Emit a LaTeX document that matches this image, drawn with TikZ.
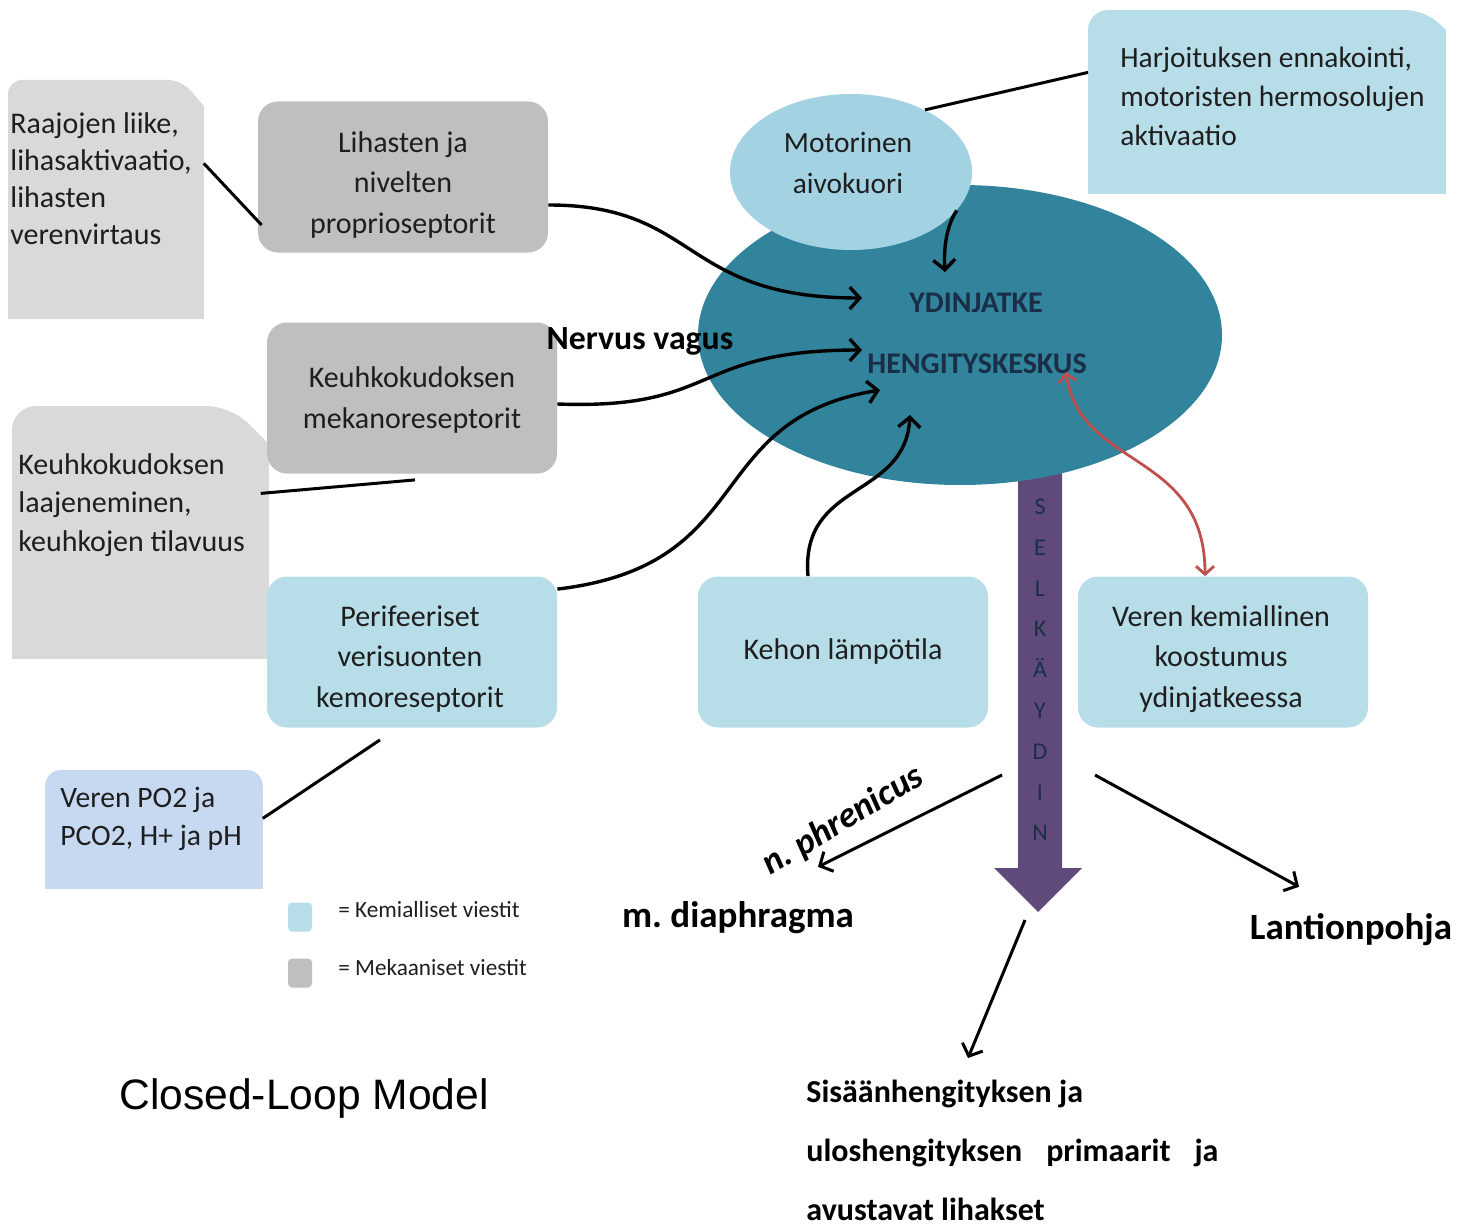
\documentclass[tikz,border=0pt]{standalone}
\usepackage{fontspec}
\setmainfont{Carlito}
\newfontfamily\arialf{Liberation Sans}
\usetikzlibrary{arrows.meta,shapes.geometric}
\frenchspacing
\definecolor{gbox}{HTML}{BFBFBF}
\definecolor{gnote}{HTML}{D9D9D9}
\definecolor{lblue}{HTML}{B7DEE8}
\definecolor{cblue}{HTML}{A3D3E2}
\definecolor{ellcol}{HTML}{31849B}
\definecolor{nblue}{HTML}{C6D9F1}
\definecolor{purp}{HTML}{604A7B}
\definecolor{redar}{HTML}{C0504D}
\definecolor{navy}{HTML}{1B2E48}
\definecolor{txt}{HTML}{1E1E1E}
\begin{document}
\begin{tikzpicture}[x=0.5pt,y=-0.5pt,
  box/.style={rounded corners=10pt, minimum width=145pt, minimum height=75.5pt, inner sep=0pt},
  boxtxt/.style={align=center, inner sep=0pt, text=txt, font=\fontsize{15}{20.2}\selectfont},
  shp/.style 2 args={minimum width=#1, minimum height=#2, inner sep=0pt, anchor=north west},
  notetxt/.style={anchor=north west, inner sep=0pt, align=left, text=txt, font=\fontsize{15}{18.6}\selectfont},
  arr/.style={line width=1.7pt, -{Straight Barb[length=5pt,width=11pt]}},
  ln/.style={line width=1.5pt},
  lbl/.style={font=\bfseries\fontsize{18.5}{22}\selectfont, text=black},
]
\useasboundingbox (0,0) rectangle (1470,1225);

% ---- note shapes ----
\node[shp={97.5pt}{119pt}] (note1) at (8,80) {};
\fill[gnote] (note1.south west) [rounded corners=7pt] -- (note1.north west) -- ([xshift=-11pt]note1.north east) [sharp corners] -- ([yshift=-13pt]note1.north east) -- (note1.south east) -- cycle;
\node[notetxt] (t1) at (10,112) {Raajojen liike,\\lihasaktivaatio,\\lihasten\\verenvirtaus};

\node[shp={128pt}{126pt}] (note2) at (12,406) {};
\fill[gnote] (note2.south west) [rounded corners=12pt] -- (note2.north west) -- ([xshift=-19pt]note2.north east) [sharp corners] -- ([yshift=-19pt]note2.north east) -- (note2.south east) -- cycle;
\node[notetxt, font=\fontsize{15}{19.2}\selectfont] (t2) at (18,453) {Keuhkokudoksen\\laajeneminen,\\keuhkojen tilavuus};

\node[shp={108.5pt}{59pt}] (note3) at (45,770) {};
\fill[nblue] (note3.south west) [rounded corners=8pt] -- (note3.north west) -- (note3.north east) [sharp corners] -- (note3.south east) -- cycle;
\node[notetxt, font=\fontsize{14.8}{19}\selectfont] (t3) at (60,787) {Veren PO2 ja\\PCO2, H+ ja pH};

\node[shp={178.5pt}{91.5pt}] (harjb) at (1088,10) {};
\fill[lblue] (harjb.south west) [rounded corners=10pt] -- (harjb.north west) -- ([xshift=-10pt]harjb.north east) [sharp corners] -- ([yshift=-10pt]harjb.north east) -- (harjb.south east) -- cycle;
\node[notetxt, font=\fontsize{14.7}{19.3}\selectfont] (t4) at (1120,47) {Harjoituksen ennakointi,\\motoristen hermosolujen\\aktivaatio};

% ---- boxes ----
\node[box, fill=gbox] (proprio) at (403,177) {};
\node[boxtxt] (proprioT) at (403,185) {Lihasten ja\\nivelten\\proprioseptorit};
\node[box, fill=gbox] (mekano) at (412,398) {};
\node[boxtxt] (mekanoT) at (412,400) {Keuhkokudoksen\\mekanoreseptorit};
\node[box, fill=lblue] (perif) at (412,652) {};
\node[boxtxt] (perifT) at (410,659) {Perifeeriset\\verisuonten\\kemoreseptorit};
\node[box, fill=lblue] (kehon) at (843,652) {};
\node[boxtxt] (kehonT) at (843,651) {Kehon lämpötila};
\node[box, fill=lblue] (veren) at (1223,652) {};
\node[boxtxt] (verenT) at (1221,659) {Veren kemiallinen\\koostumus\\ydinjatkeessa};

% ---- spinal cord arrow ----
\fill[purp] (1018,440) -- (1062,440) -- (1062,868) -- (1082,868) -- (1038,912) -- (994,868) -- (1018,868) -- cycle;
\node[align=center, inner sep=0pt, text=navy, font=\fontsize{12}{20.4}\selectfont] (selk) at (1040,670) {S\\E\\L\\K\\Ä\\Y\\D\\I\\N};

% ---- medulla and motor cortex ----
\node[ellipse, fill=ellcol, minimum width=262pt, minimum height=150pt, inner sep=0pt] (medulla) at (960,335) {};
\node[ellipse, fill=cblue, minimum width=121pt, minimum height=78pt, inner sep=0pt] (motor) at (851,172) {};
\node[boxtxt, font=\fontsize{14.7}{20.5}\selectfont] (motorT) at (848,163) {Motorinen\\aivokuori};
\node[font=\bfseries\fontsize{15}{17}\selectfont, text=navy] (ydin) at (976,303) {YDINJATKE};
\node[font=\bfseries\fontsize{15}{17}\selectfont, text=navy] (heng) at (977,364) {HENGITYSKESKUS};

\node[font=\bfseries\fontsize{16.9}{19}\selectfont] (vagus) at (640,341) {Nervus vagus};

% ---- connectors ----
\coordinate (e1) at (862,298);
\coordinate (e2) at (862,350);
\coordinate (e3) at (880,390);
\coordinate (e4) at (910,415);
\coordinate (e5) at (945,272);
\draw[arr] ([yshift=-14pt]proprio.east) .. controls (700,205) and (680,298) .. (e1);
\draw[arr] ([yshift=-3pt]mekano.east) .. controls (720,410) and (690,350) .. (e2);
\draw[arr] ([yshift=-6.5pt]perif.north east) .. controls (760,565) and (700,420) .. (e3);
\draw[arr] ([xshift=-17.5pt]kehon.north) .. controls (800,480) and (905,500) .. (e4);
\draw[arr] (motor.-20) .. controls (950,220) and (943,240) .. (e5);
\draw[line width=1.4pt, redar, {Straight Barb[length=4pt,width=9pt]}-{Straight Barb[length=4pt,width=9pt]}]
  (1066,372) .. controls (1080,470) and (1205,450) .. ([xshift=-9pt]veren.north);

\draw[ln] ([yshift=18pt]note1.east) -- ([xshift=2pt,yshift=-24pt]proprio.west);
\draw[ln] ([xshift=-4pt,yshift=19.5pt]note2.east) -- ([xshift=1.5pt,yshift=-3pt]mekano.south);
\draw[ln] ([yshift=5.5pt]note3.east) -- ([xshift=-16pt,yshift=-6pt]perif.south);
\draw[ln] (motor.40) -- ([yshift=14.75pt]harjb.west);

% ---- legend ----
\node[fill=lblue, rounded corners=2pt, minimum width=12pt, minimum height=14.5pt, inner sep=0pt] (lg1) at (300,917) {};
\node[fill=gbox, rounded corners=2pt, minimum width=12pt, minimum height=14.5pt, inner sep=0pt] (lg2) at (300,973) {};
\node[anchor=west, inner sep=0pt, text=txt, font=\fontsize{11.6}{13}\selectfont] (lt1) at (338,910) {= Kemialliset viestit};
\node[anchor=west, inner sep=0pt, text=txt, font=\fontsize{11.6}{13}\selectfont] (lt2) at (338,968) {= Mekaaniset viestit};

\node[font=\arialf\fontsize{21.3}{25}\selectfont] (title) at (304,1098) {Closed-Loop Model};

% ---- lower targets ----
\node[lbl] (diaph) at (738,918) {m. diaphragma};
\node[lbl] (lant) at (1351,930) {Lantionpohja};
\node[font=\bfseries\itshape\fontsize{18}{20}\selectfont, rotate=31] (phren) at (843,821) {n. phrenicus};
\node[anchor=north west, inner sep=0pt, align=left, font=\bfseries\fontsize{16}{29.3}\selectfont] (musc) at (806,1080)
  {Sisäänhengityksen ja\\\makebox[206pt][s]{uloshengityksen primaarit ja}\\avustavat lihakset};

\coordinate (s1) at (1002,775);
\coordinate (s2) at (1095,775);
\coordinate (s3) at (1025,920);
\draw[arr, line width=1.5pt] (s1) -- ([xshift=40pt,yshift=14pt]diaph.north);
\draw[arr, line width=1.5pt] (s2) -- ([xshift=-26pt,yshift=10pt]lant.north);
\draw[arr, line width=1.5pt] (s3) -- ([xshift=81pt,yshift=11pt]musc.north west);
\end{tikzpicture}
\end{document}
